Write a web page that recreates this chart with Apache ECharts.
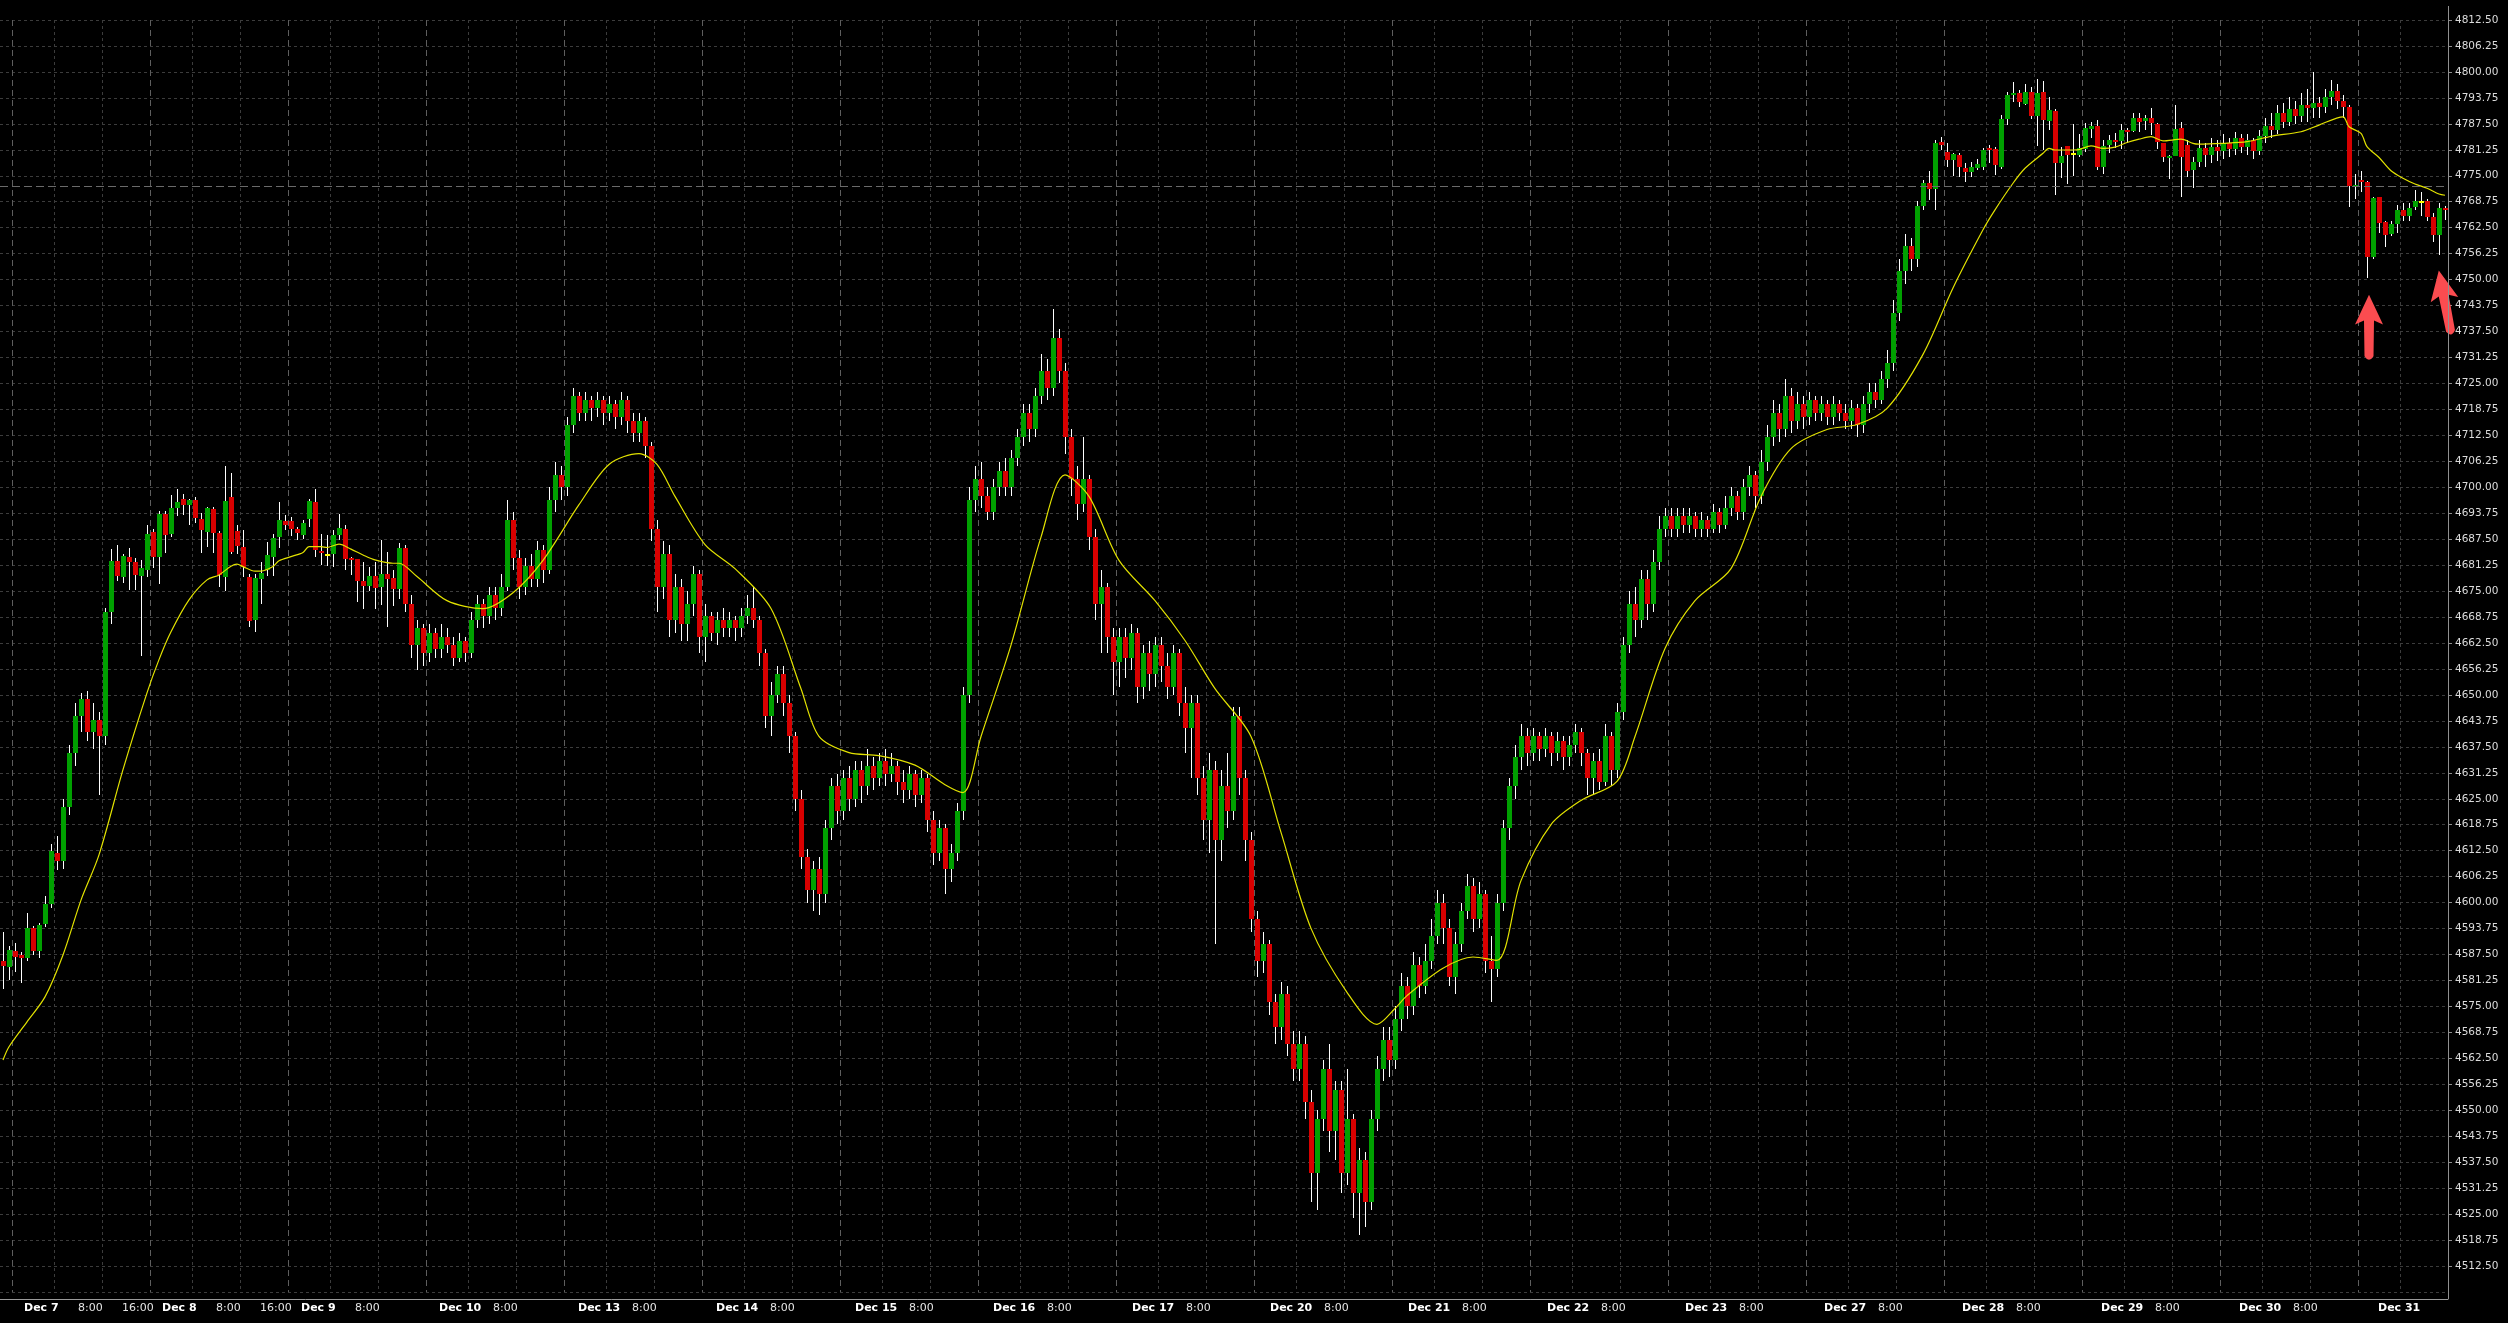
<!DOCTYPE html>
<html>
<head>
<meta charset="utf-8">
<script src="https://cdn.jsdelivr.net/npm/echarts@6/dist/echarts.min.js"></script>
<style>
html,body{margin:0;padding:0;background:#000;}
#chart{width:2508px;height:1323px;}
</style>
</head>
<body>
<div id="chart"></div>
<script>
// ---------------- DATA (hourly candles: [open, close, low, high]) ----------------
const d06 = [
[4585.9,4584.7,4579.2,4592.9],[4584.5,4588.6,4581.3,4589.5]];
const d07 = [
[4588.3,4586.9,4583.3,4590.2],[4587.4,4586.6,4580.6,4588.1],[4586.6,4593.9,4585.9,4597.5],[4593.9,4588.3,4587.4,4594.3],
[4588.3,4594.6,4586.6,4595.2],[4594.8,4599.6,4594.1,4601.6],[4599.6,4612.5,4598.7,4614.0],[4612.0,4610.0,4607.8,4616.0],
[4610.0,4623.0,4608.0,4625.0],[4623.0,4636.0,4621.0,4638.0],[4636.0,4645.0,4633.0,4648.0],[4645.0,4649.0,4641.0,4650.5],
[4649.0,4641.0,4639.0,4651.0],[4641.0,4644.0,4637.0,4648.0],[4644.0,4640.0,4626.0,4646.0],[4640.0,4670.0,4638.0,4671.0],
[4670.0,4682.2,4667.1,4685.1],[4682.2,4678.7,4677.5,4686.1],[4678.5,4683.4,4676.9,4683.9],[4683.2,4682.1,4675.3,4685.4],
[4682.0,4678.9,4675.3,4683.0],[4678.7,4680.5,4659.4,4682.5],[4680.1,4688.7,4678.5,4690.9]];
const d08 = [
[4689.2,4683.3,4680.6,4690.0],[4683.3,4693.6,4676.8,4694.3],[4693.6,4688.5,4684.2,4694.3],[4688.7,4695.0,4688.1,4698.1],
[4695.0,4696.4,4693.1,4699.6],[4697.2,4695.7,4693.3,4698.4],[4695.7,4696.9,4690.9,4697.2],[4696.9,4692.7,4691.5,4697.7],
[4692.3,4689.7,4684.2,4693.8],[4689.3,4695.0,4685.5,4695.3],[4694.8,4689.0,4684.2,4695.3],[4689.1,4678.9,4676.0,4689.5],
[4678.5,4696.7,4675.1,4705.2],[4697.6,4684.3,4683.9,4703.5],[4689.4,4685.9,4683.9,4690.9],[4685.7,4680.9,4678.5,4689.7],
[4678.5,4667.8,4666.4,4679.0],[4668.0,4678.2,4665.2,4679.0],[4677.9,4679.4,4671.8,4681.9],[4680.1,4683.7,4678.6,4686.9],
[4683.3,4687.9,4678.6,4688.7],[4688.1,4692.1,4685.4,4696.5],[4691.9,4690.8,4689.7,4693.3]];
const d09 = [
[4691.9,4690.0,4688.2,4692.9],[4690.0,4688.9,4687.4,4690.5],[4688.6,4691.4,4687.6,4692.1],[4692.4,4696.7,4690.5,4697.1],
[4696.5,4685.0,4683.2,4699.6],[4684.6,4684.2,4681.3,4688.7],[4683.7,4683.7,4681.0,4688.5],[4684.0,4688.5,4680.9,4689.7],
[4688.6,4690.3,4687.3,4693.6],[4689.9,4682.8,4680.1,4690.9],[4683.0,4682.5,4678.9,4683.3],[4682.7,4677.5,4672.4,4682.7],
[4677.4,4676.3,4670.7,4681.9],[4676.3,4678.6,4675.1,4680.9],[4678.6,4675.8,4670.8,4681.9],[4676.0,4679.0,4671.6,4687.3],
[4679.0,4677.9,4666.4,4684.3],[4678.2,4675.6,4671.5,4680.1],[4675.6,4685.4,4673.0,4686.6],[4685.4,4672.0,4670.0,4686.0],
[4672.0,4662.0,4659.0,4674.0],[4662.0,4666.0,4656.0,4668.0],[4666.0,4660.0,4657.0,4667.0]];
const d10 = [
[4660,4665,4658,4667],[4665,4661,4659,4666],[4661,4664,4659,4667],[4664,4662,4660,4666],
[4662,4659,4657,4664],[4659,4663,4658,4665],[4663,4660,4658,4664],[4660,4668,4659,4670],
[4668,4672,4666,4674],[4672,4669,4666,4673],[4669,4674,4667,4676],[4674,4671,4668,4676],
[4671,4676,4669,4679],[4676,4692,4675,4697],[4692,4683,4680,4694],[4683,4676,4673,4685],
[4676,4681,4674,4683],[4681,4678,4676,4684],[4678,4685,4676,4687],[4685,4680,4677,4686],
[4680,4697,4679,4700],[4697,4703,4694,4706],[4703,4700,4697,4705]];
const d13 = [
[4700,4715,4698,4717],[4715,4722,4713,4724],[4722,4718,4716,4723],[4718,4721,4716,4723],
[4721,4719,4716,4722],[4719,4721,4717,4723],[4721,4718,4715,4722],[4718,4720,4716,4722],
[4720,4717,4714,4721],[4717,4721,4715,4723],[4721,4716,4713,4722],[4716,4713,4711,4718],
[4713,4716,4711,4718],[4716,4710,4707,4717],[4710,4690,4687,4711],[4690,4676,4670,4692],
[4676,4684,4673,4687],[4684,4668,4664,4686],[4668,4676,4665,4679],[4676,4667,4663,4678],
[4667,4672,4663,4675],[4672,4679,4669,4681],[4679,4664,4660,4680]];
const d14 = [
[4664,4669,4658,4672],[4669,4665,4663,4670],[4665,4668,4662,4670],[4668,4666,4664,4671],
[4666,4668,4664,4670],[4668,4666,4663,4669],[4666,4669,4664,4671],[4669,4671,4667,4674],
[4671,4668,4666,4676],[4668,4660,4657,4669],[4660,4645,4642,4661],[4645,4650,4640,4653],
[4650,4655,4648,4657],[4655,4648,4645,4657],[4648,4640,4636,4650],[4640,4625,4622,4641],
[4625,4611,4608,4627],[4611,4603,4600,4613],[4603,4608,4598,4610],[4608,4602,4597,4611],
[4602,4618,4600,4620],[4618,4628,4615,4630],[4628,4622,4619,4631]];
const d15 = [
[4622,4630,4620,4632],[4630,4625,4622,4633],[4625,4632,4623,4634],[4632,4628,4624,4634],
[4628,4633,4626,4637],[4633,4630,4627,4635],[4630,4634,4628,4636],[4634,4631,4628,4637],
[4631,4633,4629,4636],[4633,4629,4626,4634],[4629,4627,4624,4632],[4627,4631,4625,4633],
[4631,4626,4623,4632],[4626,4630,4624,4632],[4630,4620,4617,4631],[4620,4612,4609,4622],
[4612,4618,4610,4620],[4618,4608,4602,4619],[4608,4612,4605,4614],[4612,4622,4610,4624],
[4622,4650,4620,4652],[4650,4697,4648,4700],[4697,4702,4694,4705]];
const d16 = [
[4702,4698,4695,4706],[4698,4694,4692,4700],[4694,4700,4692,4702],[4700,4704,4698,4706],
[4704,4700,4698,4707],[4700,4707,4698,4709],[4707,4712,4705,4714],[4712,4718,4710,4720],
[4718,4714,4711,4720],[4714,4722,4712,4724],[4722,4728,4720,4732],[4728,4724,4721,4731],
[4724,4736,4722,4743],[4736,4728,4725,4738],[4728,4712,4708,4730],[4712,4702,4698,4714],
[4702,4696,4692,4705],[4696,4702,4694,4712],[4702,4688,4685,4703],[4688,4672,4668,4690],
[4672,4676,4660,4680],[4676,4664,4660,4677],[4664,4658,4650,4666]];
const d17 = [
[4658,4664,4652,4666],[4664,4659,4654,4666],[4659,4665,4656,4667],[4665,4652,4648,4666],
[4652,4660,4649,4662],[4660,4655,4651,4663],[4655,4662,4652,4664],[4662,4657,4653,4664],
[4657,4652,4649,4660],[4652,4660,4650,4662],[4660,4648,4645,4661],[4648,4642,4636,4652],
[4642,4648,4630,4650],[4648,4630,4626,4650],[4630,4620,4615,4633],[4620,4632,4612,4636],
[4632,4615,4590,4634],[4615,4628,4610,4632],[4628,4622,4618,4636],[4622,4645,4620,4647],
[4645,4630,4626,4647],[4630,4615,4610,4632],[4615,4596,4593,4617]];
const d20 = [
[4596,4586,4582,4598],[4586,4590,4583,4593],[4590,4576,4573,4591],[4576,4570,4566,4578],
[4570,4578,4567,4581],[4578,4566,4563,4580],[4566,4560,4557,4569],[4560,4566,4557,4569],
[4566,4552,4548,4568],[4552,4535,4528,4555],[4535,4548,4526,4550],[4548,4560,4545,4562],
[4560,4545,4540,4566],[4545,4555,4538,4557],[4555,4535,4530,4557],[4535,4548,4532,4560],
[4548,4530,4524,4549],[4530,4538,4520,4541],[4538,4528,4522,4540],[4528,4548,4526,4550],
[4548,4560,4545,4563],[4560,4567,4557,4570],[4567,4562,4558,4570]];
const d21 = [
[4562,4572,4560,4575],[4572,4580,4569,4583],[4580,4575,4572,4582],[4575,4585,4573,4588],
[4585,4580,4577,4587],[4580,4586,4578,4590],[4586,4592,4584,4596],[4592,4600,4590,4603],
[4600,4594,4590,4602],[4594,4582,4580,4596],[4582,4590,4578,4593],[4590,4598,4588,4600],
[4598,4604,4596,4607],[4604,4596,4593,4606],[4596,4602,4594,4605],[4602,4586,4583,4603],
[4586,4584,4576,4592],[4584,4600,4582,4602],[4600,4618,4598,4620],[4618,4628,4615,4630],
[4628,4635,4625,4638],[4635,4640,4632,4643],[4640,4636,4633,4642]];
const d22 = [
[4636,4640,4634,4642],[4640,4637,4634,4641],[4637,4640,4635,4642],[4640,4636,4633,4641],
[4636,4639,4634,4641],[4639,4635,4632,4640],[4635,4638,4633,4640],[4638,4641,4636,4643],
[4641,4636,4633,4642],[4636,4630,4626,4637],[4630,4634,4626,4636],[4634,4629,4627,4637],
[4629,4640,4628,4643],[4640,4632,4628,4641],[4632,4646,4630,4648],[4646,4662,4644,4664],
[4662,4672,4660,4675],[4672,4668,4664,4676],[4668,4678,4666,4680],[4678,4672,4668,4680],
[4672,4682,4670,4685],[4682,4690,4680,4693],[4690,4693,4688,4695]];
const d23 = [
[4693,4690,4688,4695],[4690,4693,4688,4695],[4693,4691,4689,4695],[4691,4693,4689,4695],
[4693,4690,4688,4694],[4690,4692,4688,4694],[4692,4690,4688,4693],[4690,4694,4689,4696],
[4694,4691,4689,4695],[4691,4695,4690,4698],[4695,4698,4693,4700],[4698,4694,4692,4699],
[4694,4700,4692,4702],[4700,4703,4698,4705],[4703,4698,4695,4704],[4698,4706,4696,4709],
[4706,4712,4704,4715],[4712,4718,4710,4721],[4718,4714,4711,4720],[4714,4722,4712,4726],
[4722,4716,4713,4724],[4716,4720,4714,4723],[4720,4717,4714,4722]];
const d27 = [
[4717,4721,4715,4723],[4721,4718,4716,4722],[4718,4720,4716,4722],[4720,4717,4715,4721],
[4717,4720,4715,4722],[4720,4718,4716,4721],[4718,4716,4714,4720],[4716,4719,4714,4721],
[4719,4715,4712,4720],[4715,4720,4713,4722],[4720,4723,4718,4725],[4723,4721,4719,4725],
[4721,4726,4720,4728],[4726,4730,4724,4733],[4730,4742,4728,4745],[4742,4752,4740,4755],
[4752,4758,4749,4761],[4758,4755,4752,4760],[4755,4767.8,4753,4769],[4767.8,4773.2,4766.8,4774.0],
[4773.2,4771.9,4769.2,4776.1],[4771.9,4782.8,4766.8,4783.6],[4783.1,4782.4,4781.2,4784.4]];
const d28 = [
[4780.7,4778.8,4777.2,4782.8],[4778.8,4780.2,4774.9,4780.5],[4780.0,4777.2,4774.8,4780.5],[4776.9,4776.0,4773.6,4778.0],
[4775.9,4777.2,4774.6,4778.4],[4776.8,4777.8,4776.4,4779.0],[4777.2,4781.1,4776.4,4781.8],[4781.8,4781.2,4778.1,4782.4],
[4781.5,4777.6,4775.2,4782.0],[4777.2,4788.7,4776.6,4789.6],[4788.7,4794.4,4787.1,4795.1],[4794.4,4794.9,4792.8,4797.5],
[4795.0,4792.8,4791.5,4795.6],[4792.2,4795.2,4792.0,4797.1],[4795.2,4789.5,4788.7,4796.4],[4789.5,4795.0,4782.2,4798.3],
[4795.2,4788.4,4781.2,4797.8],[4788.2,4790.8,4786.0,4794.0],[4790.6,4778.1,4770.4,4791.0],[4778.1,4779.7,4774.4,4782.0],
[4782.2,4780.0,4772.9,4782.2],[4780.2,4780.2,4775.0,4787.5],[4780.0,4781.8,4779.6,4785.0]];
const d29 = [
[4781.4,4786.4,4780.8,4787.8],[4786.3,4787.0,4784.0,4788.0],[4787.0,4777.2,4776.4,4788.4],[4777.2,4782.2,4775.4,4783.6],
[4782.4,4783.6,4780.4,4784.8],[4783.6,4783.1,4781.8,4785.2],[4783.4,4786.0,4781.4,4787.5],[4786.0,4785.6,4782.8,4786.4],
[4785.8,4788.8,4785.6,4790.2],[4788.8,4788.0,4785.6,4790.2],[4788.3,4788.8,4786.0,4789.6],[4789.0,4787.6,4784.7,4791.2],
[4787.5,4783.2,4781.4,4787.6],[4782.8,4779.4,4778.4,4783.0],[4779.2,4779.7,4774.2,4780.0],[4779.8,4786.3,4779.8,4792.0],
[4786.4,4779.4,4770.0,4788.0],[4782.4,4776.1,4774.8,4783.6],[4776.4,4778.4,4772.0,4779.6],[4778.4,4781.8,4777.0,4783.5],
[4781.8,4780.0,4777.0,4783.0],[4780.0,4782.0,4778.0,4784.0],[4782.0,4781.0,4778.5,4783.5]];
const d30 = [
[4781.0,4783.0,4779.0,4785.0],[4783.0,4781.5,4779.5,4784.0],[4781.5,4784.0,4780.0,4785.5],[4784.0,4782.0,4780.5,4785.0],
[4782.0,4783.5,4780.0,4785.0],[4783.5,4781.0,4779.0,4784.0],[4781.0,4784.5,4780.0,4786.0],[4784.5,4787.0,4783.0,4789.0],
[4787.0,4786.0,4784.0,4790.0],[4786.0,4790.0,4785.0,4792.0],[4790.0,4788.0,4786.5,4792.5],[4788.0,4791.0,4787.0,4794.0],
[4791.0,4789.5,4787.5,4793.0],[4789.5,4792.0,4788.0,4795.0],[4792.0,4791.3,4788.0,4796.0],[4791.3,4792.5,4789.0,4800.0],
[4792.5,4791.5,4789.0,4794.0],[4791.5,4794.0,4790.0,4796.0],[4794.0,4795.5,4792.0,4798.0],[4795.5,4793.0,4791.0,4797.0],
[4793.0,4791.6,4789.0,4794.5],[4791.6,4772.5,4767.4,4792.0],[4772.4,4772.8,4769.4,4775.4]];
const d31 = [
[4773.9,4773.6,4771.2,4776.2],[4773.6,4755.4,4750.3,4773.8],[4755.4,4769.7,4755.0,4770.0],[4769.8,4763.7,4761.3,4770.0],
[4763.8,4760.7,4757.9,4764.2],[4761.0,4763.4,4760.4,4764.0],[4763.4,4766.8,4761.3,4768.0],[4766.8,4765.2,4764.0,4768.4],
[4765.2,4767.3,4764.2,4768.4],[4767.4,4768.9,4766.8,4771.6],[4768.8,4768.8,4765.2,4771.2],[4768.9,4765.1,4764.0,4769.5],
[4765.1,4760.7,4759.1,4766.0],[4760.7,4767.3,4755.9,4768.5],[4767.3,4766.8,4764.4,4767.8]];

// trading days: label, first hour of the first bar, bars, time tick labels
const dayNames  = ['Dec 6','Dec 7','Dec 8','Dec 9','Dec 10','Dec 13','Dec 14','Dec 15','Dec 16','Dec 17','Dec 20','Dec 21','Dec 22','Dec 23','Dec 27','Dec 28','Dec 29','Dec 30','Dec 31'];
const dayFirstHour = [22,1,1,1,1,1,1,1,1,1,1,1,1,1,1,1,1,1,1];
const dayBars = [d06,d07,d08,d09,d10,d13,d14,d15,d16,d17,d20,d21,d22,d23,d27,d28,d29,d30,d31];
const dayTimeLabels = [[],['8:00','16:00'],['8:00','16:00'],['8:00'],['8:00'],['8:00'],['8:00'],['8:00'],['8:00'],['8:00'],['8:00'],['8:00'],['8:00'],['8:00'],['8:00'],['8:00'],['8:00'],['8:00'],[]];
const gridHours = [8, 16];

// moving average (yellow line): [bar index, value]
const maPoints = [
[0,4562.1],[1,4565.3],[4,4571.3],[7,4577.3],[10,4587.4],[13,4600.6],[16,4611.5],[20,4632],[24,4650.5],[26,4658.5],
[28,4665.2],[31,4672.9],[34,4677.7],[36,4678.9],[38,4681.0],[39,4681.5],[40,4680.9],[42,4679.8],[43,4679.8],[45,4680.9],
[46,4682.3],[48,4683.3],[50,4684.3],[51,4685.7],[53,4685.7],[54,4685.5],[56,4686.3],[58,4685.1],[60,4683.7],[62,4682.5],
[65,4681.7],[66,4681.7],[69,4678.5],[74,4672.7],[80,4670.8],[85,4674.6],[90,4682.4],[96,4695.8],[101,4705.5],[106,4708.1],
[109,4705.5],[112,4697.8],[117,4686.2],[122,4680.4],[128,4670.8],[133,4651.5],[136,4640],[141,4636.1],[146,4635.4],[152,4633.1],
[157,4628.4],[160,4626.5],[163,4640],[168,4662],[173,4688],[177,4703],[181,4697.8],[186,4682.4],[192,4672.7],[197,4663.1],
[202,4651.5],[208,4640],[213,4616.9],[218,4593.8],[224,4578.4],[229,4570.7],[232,4574.5],[234,4577.6],[240,4584.2],[245,4586.9],
[249,4586.1],[253,4605.3],[258,4618.8],[263,4624.6],[269,4629.2],[272,4640],[277,4661.2],[282,4672.7],[288,4680.4],[293,4697.8],
[298,4709.3],[304,4713.9],[309,4715.1],[314,4719],[320,4732],[325,4748],[330,4762],[332,4766.8],[335,4773.2],[337,4776.8],
[340,4780.4],[341,4781.6],[342,4781.2],[345,4781.2],[346,4781.3],[348,4782.2],[350,4781.6],[352,4781.9],[354,4783.0],[356,4783.8],
[358,4784.4],[360,4783.4],[363,4783.8],[365,4782.8],[366,4782.6],[370,4782.8],[374,4783.2],[378,4784.5],[383,4785.6],[386,4787.2],
[390,4789.2],[391,4786.8],[393,4785.2],[394,4782.0],[396,4779.4],[398,4776.2],[400,4774.4],[402,4773.0],[404,4772.0],[406,4770.6],[407,4770.3]];

// dashed horizontal price level line
const priceLevel = 4772.5;
// red annotation arrows: [bar index, price at arrow centre]
const arrowMarks = [[394, 4738.5], [407, 4744.5]];

// y-axis ticks
const yMin = 4506.25, yMax = 4812.5, yStep = 6.25;

// ---------------- BUILD ----------------
const categories = [];
const candles = [];
const dayStart = [];
const majorGrid = new Set();
const minorGrid = new Set();
const labelMap = {};
let idx = 0;
dayBars.forEach((bars, d) => {
  dayStart.push(idx);
  bars.forEach((b, j) => {
    const hour = dayFirstHour[d] + j;
    categories.push(dayNames[d] + ' ' + hour + ':00');
    candles.push([idx, b[0], b[1], b[2], b[3]]);
    if (dayFirstHour[d] === 1) {
      if (j === 0) majorGrid.add(idx);
      if (gridHours.indexOf(hour) >= 0) minorGrid.add(idx);
    }
    idx++;
  });
});
const totalBars = idx;
dayBars.forEach((bars, d) => {
  if (dayFirstHour[d] !== 1) return;
  const s = dayStart[d];
  const drift = 7.6 * s / (totalBars - 15);
  labelMap[s + 1] = '{b' + Math.round(3 + drift) + '|' + dayNames[d] + '}';
  dayTimeLabels[d].forEach(t => {
    const h = parseInt(t, 10);
    const g = s + (h - dayFirstHour[d]);
    if (h === 8) labelMap[g + 3] = '{t' + Math.round(3 + drift) + '|' + t + '}';
    else labelMap[g + 2] = '{t' + Math.round(5 + drift) + '|' + t + '}';
  });
});
const rich = {};
for (let p = 0; p <= 20; p++) {
  rich['b' + p] = {fontFamily: 'DejaVu Sans', fontWeight: 'bold', fontSize: 11, color: '#ffffff', padding: [0, 0, 0, p]};
  rich['t' + p] = {fontFamily: 'DejaVu Sans', fontSize: 11, color: '#e4e4e4', padding: [0, 0, 0, p]};
}

const UP = '#00a000', DOWN = '#d80000', DOJI = '#ffff00', WICK = '#ffffff';

function renderCandle(params, api) {
  const i = api.value(0);
  const o = api.value(1), c = api.value(2), l = api.value(3), h = api.value(4);
  const pO = api.coord([i, o]), pC = api.coord([i, c]);
  const pL = api.coord([i, l]), pH = api.coord([i, h]);
  const cx = Math.round(pO[0]);
  const wickX = cx + 0.5;
  const top = Math.round(Math.min(pO[1], pC[1]));
  const bot = Math.round(Math.max(pO[1], pC[1]));
  let color = c > o ? UP : (c < o ? DOWN : DOJI);
  let bodyY = top, bodyH = Math.max(bot - top, 1);
  if (c === o) { bodyY = top - 1; bodyH = 2; }
  return {
    type: 'group',
    children: [
      {type: 'line', shape: {x1: wickX, y1: Math.round(pH[1]), x2: wickX, y2: Math.round(pL[1])},
       style: {stroke: WICK, lineWidth: 1}},
      {type: 'rect', shape: {x: cx - 2, y: bodyY, width: 5, height: bodyH},
       style: {fill: color, stroke: null}}
    ]
  };
}

const arrowPath = 'path://M14,0 L28,29 L19,25 L18.5,60 Q14,67 9.5,60 L9,25 L0,29 Z';

const option = {
  backgroundColor: '#000000',
  animation: false,
  grid: {left: 0, right: 60, top: 20, bottom: 31, containLabel: false, outerBoundsMode: 'none'},
  xAxis: [
    {
      type: 'category', data: categories, boundaryGap: true, position: 'bottom', offset: 7,
      axisLine: {show: true, lineStyle: {color: '#9a9a9a', width: 1}},
      axisTick: {show: false},
      axisLabel: {
        show: true, margin: 4, align: 'left', rich: rich,
        interval: (i) => labelMap[i] !== undefined,
        formatter: (v, i) => labelMap[i] || ''
      },
      splitLine: {show: true, interval: (i) => minorGrid.has(i), lineStyle: {color: '#3c3c3c', width: 1, type: [3, 3]}}
    },
    {
      type: 'category', data: categories, boundaryGap: true, position: 'top',
      axisLine: {show: false}, axisTick: {show: false}, axisLabel: {show: false},
      splitLine: {show: true, interval: (i) => majorGrid.has(i), lineStyle: {color: '#5e5e5e', width: 1, type: [6, 4]}}
    }
  ],
  yAxis: {
    type: 'value', position: 'right', min: yMin, max: yMax, interval: yStep, scale: true,
    axisLine: {show: true, lineStyle: {color: '#909090', width: 1}},
    axisTick: {show: true, length: 4, inside: false, lineStyle: {color: '#909090'}},
    axisLabel: {show: true, margin: 7, showMinLabel: false, color: '#dcdcdc', fontFamily: 'DejaVu Sans', fontSize: 10.5,
      formatter: (v) => v.toFixed(2)},
    splitLine: {show: true, lineStyle: {color: '#3c3c3c', width: 1, type: [3, 3]}}
  },
  graphic: [{
    type: 'line', silent: true, z: 100,
    shape: {x1: 2448.5, y1: 6, x2: 2448.5, y2: 1299},
    style: {stroke: '#909090', lineWidth: 1}
  }],
  series: [
    {
      name: 'price', type: 'custom', xAxisIndex: 0, yAxisIndex: 0,
      renderItem: renderCandle,
      dimensions: ['i', 'open', 'close', 'low', 'high'],
      encode: {x: 0, y: [1, 2, 3, 4]},
      data: candles, z: 2, silent: true
    },
    {
      name: 'MA', type: 'line', xAxisIndex: 0, yAxisIndex: 0,
      data: maPoints, smooth: 0.3, showSymbol: false, symbol: 'none', z: 3, silent: true,
      lineStyle: {color: '#e2e200', width: 1.2},
      markLine: {
        silent: true, symbol: ['none', 'none'], label: {show: false},
        lineStyle: {color: '#6a6a6a', width: 1, type: [8, 4]},
        data: [{yAxis: priceLevel}]
      },
      markPoint: {
        silent: true, symbol: arrowPath, symbolSize: [28, 65], label: {show: false},
        itemStyle: {color: '#fb4c50'},
        data: [
          {coord: [arrowMarks[0][0], arrowMarks[0][1]], symbolOffset: [2, 0]},
          {coord: [arrowMarks[1][0], arrowMarks[1][1]], symbolRotate: 11}
        ]
      }
    }
  ]
};

const chart = echarts.init(document.getElementById('chart'), null, {renderer: 'canvas', width: 2508, height: 1323});
chart.setOption(option);
</script>
</body>
</html>
